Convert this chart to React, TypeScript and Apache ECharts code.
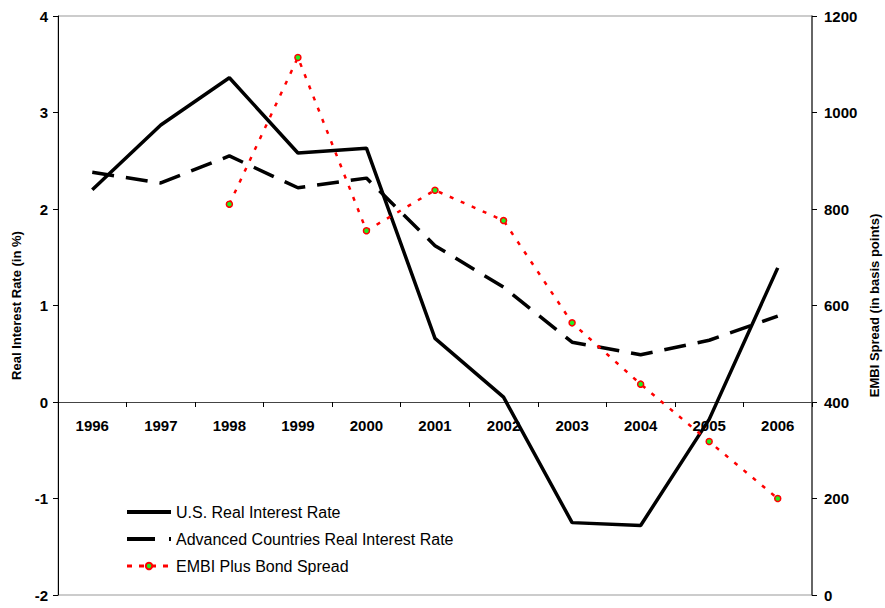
import React, { useEffect, useRef } from "react";
import * as echarts from "echarts";

const years = ["1996", "1997", "1998", "1999", "2000", "2001", "2002", "2003", "2004", "2005", "2006"];
const usRate = [2.2, 2.87, 3.36, 2.58, 2.63, 0.66, 0.05, -1.25, -1.28, -0.18, 1.39];
const advRate = [2.38, 2.27, 2.55, 2.22, 2.32, 1.62, 1.19, 0.62, 0.49, 0.64, 0.89];
const embiSpread: (number | string)[] = ["-", "-", 810, 1114, 755, 839, 776, 564, 437, 318, 200];

const FONT = "Liberation Sans, Arial, sans-serif";

export default function App() {
  const ref = useRef<HTMLDivElement>(null);
  useEffect(() => {
    if (!ref.current) return;
    const chart = echarts.init(ref.current, undefined, { renderer: "svg" });
    chart.setOption({
      animation: false,
      backgroundColor: "#ffffff",
      textStyle: { fontFamily: FONT },
      grid: {
        left: 58,
        right: 73,
        top: 16,
        bottom: 13,
        show: true,
        borderColor: "#999999",
        borderWidth: 1,
        containLabel: false,
        outerBoundsMode: "none",
      },
      legend: {
        orient: "vertical",
        left: 120,
        top: 499,
        itemWidth: 44,
        itemHeight: 8,
        itemGap: 11,
        textStyle: { fontFamily: FONT, fontSize: 16, color: "#000" },
        data: [
          { name: "U.S. Real Interest Rate", itemStyle: { opacity: 0 }, lineStyle: { width: 4 } },
          {
            name: "Advanced Countries Real Interest Rate",
            itemStyle: { opacity: 0 },
            lineStyle: { width: 4, type: [28, 14] },
          },
          { name: "EMBI Plus Bond Spread", lineStyle: { width: 3, type: [5, 7] } },
        ],
      },
      xAxis: {
        type: "category",
        data: years,
        boundaryGap: true,
        position: "bottom",
        offset: -193,
        axisLine: { onZero: false, lineStyle: { color: "#444", width: 1 } },
        axisTick: { show: true, length: 5, lineStyle: { color: "#000" } },
        axisLabel: { fontFamily: FONT, fontSize: 15, fontWeight: "bold", color: "#000", margin: 16 },
        splitLine: { show: false },
      },
      yAxis: [
        {
          type: "value",
          min: -2,
          max: 4,
          interval: 1,
          position: "left",
          name: "Real Interest Rate (in %)",
          nameLocation: "middle",
          nameGap: 35,
          nameRotate: 90,
          nameTextStyle: { fontFamily: FONT, fontSize: 13, fontWeight: "bold", color: "#000" },
          axisLine: { show: true, lineStyle: { color: "#000", width: 1 } },
          axisTick: { show: true, length: 5, lineStyle: { color: "#000" } },
          axisLabel: { fontFamily: FONT, fontSize: 15, fontWeight: "bold", color: "#000", margin: 10 },
          splitLine: { show: false },
        },
        {
          type: "value",
          min: 0,
          max: 1200,
          interval: 200,
          position: "right",
          name: "EMBI Spread (in basis points)",
          nameLocation: "middle",
          nameGap: 55,
          nameRotate: 90,
          nameTextStyle: { fontFamily: FONT, fontSize: 13, fontWeight: "bold", color: "#000" },
          axisLine: { show: true, lineStyle: { color: "#444", width: 1.5 } },
          axisTick: { show: true, length: 5, lineStyle: { color: "#000" } },
          axisLabel: {
            fontFamily: FONT,
            fontSize: 15,
            fontWeight: "bold",
            color: "#000",
            margin: 12,
            formatter: (v: number) => String(v),
          },
          splitLine: { show: false },
        },
      ],
      series: [
        {
          name: "U.S. Real Interest Rate",
          type: "line",
          yAxisIndex: 0,
          data: usRate,
          symbol: "none",
          color: "#000",
          lineStyle: { color: "#000", width: 3.5, type: "solid" },
        },
        {
          name: "Advanced Countries Real Interest Rate",
          type: "line",
          yAxisIndex: 0,
          data: advRate,
          symbol: "none",
          color: "#000",
          lineStyle: { color: "#000", width: 3.5, type: [22, 12] },
        },
        {
          name: "EMBI Plus Bond Spread",
          type: "line",
          yAxisIndex: 1,
          data: embiSpread,
          symbol: "circle",
          symbolSize: 6,
          showSymbol: true,
          color: "#00ee00",
          itemStyle: { color: "#22ee22", borderColor: "#ff0000", borderWidth: 1.5 },
          lineStyle: { color: "#ff0000", width: 2.5, type: [4, 8] },
          z: 3,
        },
      ],
    });
    return () => chart.dispose();
  }, []);
  return <div ref={ref} style={{ width: 885, height: 608, position: "absolute", left: 0, top: 0 }} />;
}
